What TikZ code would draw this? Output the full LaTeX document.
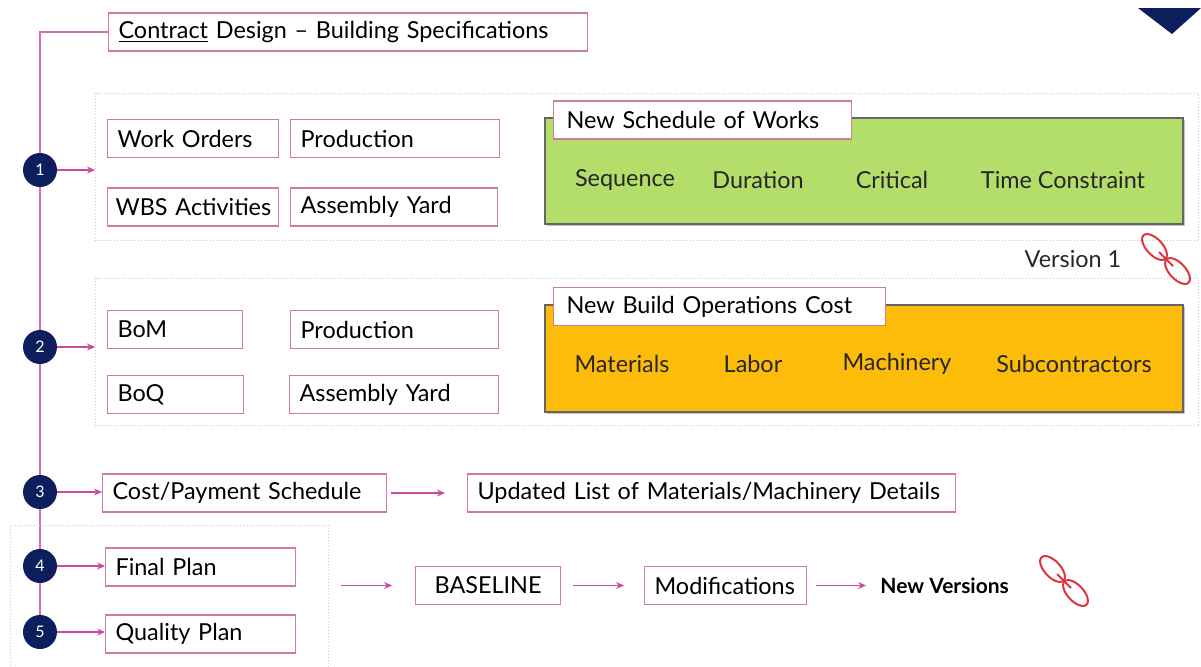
\documentclass[tikz,border=0pt]{standalone}
\usepackage{fontspec}
\setmainfont{Lato}
\usetikzlibrary{arrows.meta}
\usetikzlibrary{backgrounds}
\usetikzlibrary{shadows}
\usetikzlibrary{positioning}

\definecolor{navy}{RGB}{12,30,92}
\definecolor{boxpink}{RGB}{205,125,155}
\definecolor{linepink}{RGB}{214,110,182}
\definecolor{arrpink}{RGB}{206,72,160}
\definecolor{worksgreen}{RGB}{180,222,106}
\definecolor{costorange}{RGB}{253,187,10}
\definecolor{chainred}{RGB}{222,52,62}

\begin{document}
\begin{tikzpicture}[
    x=0.5pt, y=-0.5pt,
    font=\fontsize{11.7}{14}\selectfont,
    pbox/.style={draw=boxpink, fill=white, line width=0.6pt, anchor=west,
                 minimum height=19pt, inner xsep=5pt, align=left},
    grp/.style={draw=black!22, densely dotted, line width=0.5pt, anchor=north west},
    num/.style={circle, fill=navy, text=white, minimum size=17pt, inner sep=0pt,
                font=\fontsize{8}{9}\selectfont},
    arr/.style={draw=arrpink, line width=0.6pt, -{Stealth[length=4pt, width=3.5pt]}},
    vline/.style={draw=linepink, line width=0.8pt},
    panel/.style={draw=black!60, line width=0.6pt, minimum width=319pt, minimum height=53pt,
                  drop shadow={shadow xshift=0.8pt, shadow yshift=-0.8pt, fill=black!45}},
    item/.style={text=black!85},
    chain/.style={draw=chainred, line width=1pt},
    chainicon/.pic={
        % two links along the down-right diagonal
        \draw[chain] plot[smooth cycle, domain=0:350, samples=36, variable=\t]
            ({-11.5+16*cos(\t)*0.682-8*sin(\t)*0.731}, {-12+16*cos(\t)*0.731+8*sin(\t)*0.682});
        \draw[chain] plot[smooth cycle, domain=0:350, samples=36, variable=\t]
            ({11.5+16*cos(\t)*0.682-8*sin(\t)*0.731}, {12+16*cos(\t)*0.731+8*sin(\t)*0.682});
        \draw[chain] (-7,-7) -- (7,7);
    }
]
\useasboundingbox (0,0) rectangle (1201,666);

% Corner marker
\fill[navy] (1138,8) -- (1201,8) -- (1172,34) -- cycle;

% Dotted groups
\node[grp, minimum width=551.5pt, minimum height=73.5pt] (grp1) at (95,93) {};
\node[grp, minimum width=551.5pt, minimum height=73.5pt] (grp2) at (95,278) {};
\node[grp, minimum width=159pt, minimum height=72pt] (grp3) at (10,525) {};

% Top box
\node[pbox, text width=229.5pt] (cds) at (108,32) {\underline{Contract} Design -- Building Specifications};

% Step circles
\node[num] (n1) at (40,170) {1};
\node[num] (n2) at (40,347) {2};
\node[num] (n3) at (40,492) {3};
\node[num] (n4) at (40,566) {4};
\node[num] (n5) at (40,632) {5};

% Spine
\begin{scope}[on background layer]
\draw[vline] (cds.west) -| (n5.center);
\end{scope}

% Step 1
\node[pbox, text width=75.5pt] (wo) at (107,138.5) {Work Orders};
\node[pbox, text width=94.5pt] (prod1) at (290,138.5) {Production};
\node[pbox, text width=77.5pt, inner xsep=4pt] (wbs) at (107,207) {\mbox{WBS Activities}};
\node[pbox, text width=93.5pt] (yard1) at (290,207) {Assembly Yard};

\node[panel, fill=worksgreen] (works) at (864,171) {};
\node[pbox, text width=136pt, inner xsep=6.5pt] (workstab) at (553,120) {New Schedule of Works};
\node[item] (seq) at (625,180) {Sequence};
\node[item] (dur) at (758,180) {Duration};
\node[item] (crit) at (892,180) {Critical};
\node[item] (tcon) at (1063,180) {Time Constraint};

% Version 1
\node[item] (ver1) at (1073,259) {Version 1};
\pic at (1166,259) {chainicon};

% Step 2
\node[pbox, text width=57.5pt] (bom) at (107,329.5) {BoM};
\node[pbox, text width=94pt] (prod2) at (290,329.5) {Production};
\node[pbox, text width=58pt] (boq) at (107,394.5) {BoQ};
\node[pbox, text width=94.5pt] (yard2) at (289,394.5) {Assembly Yard};

\node[panel, minimum height=53.5pt, fill=costorange] (cost) at (864,358.5) {};
\node[pbox, text width=153pt, inner xsep=6.5pt] (costtab) at (553,306.5) {New Build Operations Cost};
\node[item] (mat) at (622,364) {Materials};
\node[item] (lab) at (753,364) {Labor};
\node[item] (mach) at (897,364) {Machinery};
\node[item] (sub) at (1074,364) {Subcontractors};

% Step 3
\node[pbox, text width=132pt] (cps) at (102,493) {Cost/Payment Schedule};
\node[pbox, text width=234pt] (upd) at (467,493) {Updated List of Materials/Machinery Details};

% Steps 4 and 5
\node[pbox, text width=85pt] (fp) at (105,567) {Final Plan};
\node[pbox, text width=85pt] (qp) at (105,634) {Quality Plan};

\node[pbox, text width=62.5pt, align=center] (base) at (415,585.5) {BASELINE};
\node[pbox, text width=71pt] (mods) at (644,585.5) {Modifications};
\node[anchor=west, inner sep=0pt, font=\fontsize{10.5}{12}\selectfont\bfseries] (nv) at (880,585.5) {New Versions};
\pic at (1064,581) {chainicon};

% Arrows
\draw[arr] (n1) -- (n1 -| grp1.west);
\draw[arr] (n2) -- (n2 -| grp2.west);
\draw[arr] (n3) -- (n3 -| cps.west);
\draw[arr] (n4) -- (n4 -| fp.west);
\draw[arr] (n5) -- (n5 -| qp.west);
\draw[arr, shorten <=2pt, shorten >=11pt] (cps) -- (upd);
\draw[arr, shorten <=6pt, shorten >=11.5pt] (base -| grp3.east) -- (base.west);
\draw[arr, shorten <=6pt, shorten >=10pt] (base) -- (mods);
\draw[arr, shorten <=4.5pt, shorten >=7pt] (mods) -- (nv);

\end{tikzpicture}
\end{document}
